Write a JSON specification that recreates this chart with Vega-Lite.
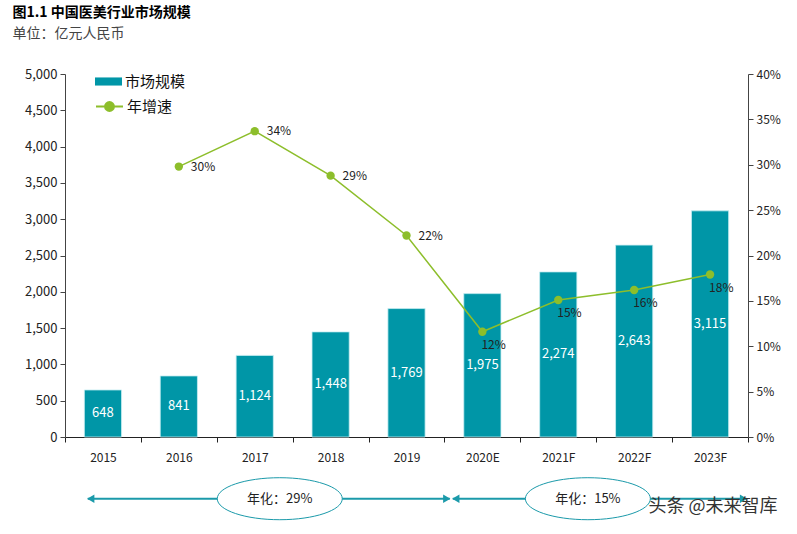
{
  "$schema": "https://vega.github.io/schema/vega-lite/v6.json",
  "background": "white",
  "padding": {"left": 12, "top": 6, "right": 5, "bottom": 5},
  "config": {
    "font": "Noto Sans CJK SC",
    "view": {"stroke": null},
    "axis": {"grid": false, "labelFont": "Noto Sans CJK SC", "labelColor": "#222", "domainColor": "#444", "tickColor": "#444", "title": null}
  },
  "title": {
    "text": "图1.1 中国医美行业市场规模",
    "subtitle": "单位：亿元人民币",
    "anchor": "start",
    "frame": "bounds",
    "fontSize": 14,
    "fontWeight": "bold",
    "color": "#000",
    "subtitleFontSize": 14,
    "subtitleColor": "#444",
    "subtitlePadding": 7,
    "offset": 27,
    "dx": -12
  },
  "width": 683,
  "height": 363,
  "datasets": {
    "main": [
      {"year": "2015", "size": 648, "growth": null},
      {"year": "2016", "size": 841, "growth": 0.298},
      {"year": "2017", "size": 1124, "growth": 0.337},
      {"year": "2018", "size": 1448, "growth": 0.288},
      {"year": "2019", "size": 1769, "growth": 0.222},
      {"year": "2020E", "size": 1975, "growth": 0.116},
      {"year": "2021F", "size": 2274, "growth": 0.151},
      {"year": "2022F", "size": 2643, "growth": 0.162},
      {"year": "2023F", "size": 3115, "growth": 0.179}
    ],
    "cagr": [
      {"label": "年化：29%", "start": 2014.8, "end": 2019.57, "mid": 2017.33},
      {"label": "年化：15%", "start": 2019.61, "end": 2023.48, "mid": 2021.39}
    ],
    "mark": [
      {"text": "头条 @未来智库", "pos": 2023.04}
    ]
  },
  "layer": [
    {
      "data": {"name": "main"},
      "resolve": {"scale": {"y": "independent"}},
      "encoding": {
        "x": {
          "field": "year", "type": "nominal", "sort": null,
          "scale": {"type": "band", "paddingInner": 0, "paddingOuter": 0}
        }
      },
      "layer": [
        {
          "mark": {"type": "bar", "width": {"band": 0.49}, "stroke": "#c8eef2", "strokeWidth": 0.8},
          "encoding": {
            "x": {
              "field": "year", "type": "nominal", "sort": null,
              "axis": {"tickBand": "extent", "tickSize": 5, "labelPadding": 10, "labelFontSize": 12, "labelAngle": 0, "domainColor": "#222", "tickColor": "#222"}
            },
            "y": {
              "field": "size", "type": "quantitative",
              "scale": {"domain": [0, 5000]},
              "axis": {"values": [0, 500, 1000, 1500, 2000, 2500, 3000, 3500, 4000, 4500, 5000], "format": ",d", "labelFontSize": 13, "tickSize": 5, "labelPadding": 3}
            },
            "fill": {
              "datum": "市场规模",
              "scale": {"range": ["#0096A7"]},
              "legend": {
                "orient": "none", "legendX": 30, "legendY": -6, "title": null, "padding": 0,
                "symbolType": "M-1,-0.3H1V0.3H-1Z", "symbolSize": 729, "symbolStrokeWidth": 0,
                "labelFontSize": 15, "labelColor": "#111", "labelOffset": 3
              }
            }
          }
        },
        {
          "mark": {"type": "text", "color": "white", "fontSize": 13, "baseline": "middle"},
          "encoding": {
            "y": {"field": "size", "type": "quantitative", "scale": {"domain": [0, 10000]}, "axis": null},
            "text": {"field": "size", "type": "quantitative", "format": ","}
          }
        },
        {
          "mark": {"type": "line", "strokeWidth": 1.5},
          "encoding": {
            "y": {
              "field": "growth", "type": "quantitative",
              "scale": {"domain": [0, 0.4]},
              "axis": {"orient": "right", "values": [0, 0.05, 0.1, 0.15, 0.2, 0.25, 0.3, 0.35, 0.4], "format": ".0%", "labelFontSize": 12, "tickSize": 5, "labelPadding": 3}
            },
            "stroke": {
              "datum": "年增速",
              "scale": {"range": ["#8DBE2B"]},
              "legend": {
                "orient": "none", "legendX": 30, "legendY": 18, "title": null, "padding": 0,
                "symbolType": "M-1,0H1M0.33,0A0.33,0.33 0 1,1 -0.33,0A0.33,0.33 0 1,1 0.33,0Z",
                "symbolSize": 729, "symbolStrokeWidth": 2, "symbolFillColor": "#8DBE2B",
                "labelFontSize": 15, "labelColor": "#111", "labelOffset": 3
              }
            }
          }
        },
        {
          "mark": {"type": "point", "filled": true, "size": 70, "color": "#8DBE2B", "opacity": 1},
          "encoding": {
            "y": {"field": "growth", "type": "quantitative", "scale": {"domain": [0, 0.4]}, "axis": null}
          }
        },
        {
          "transform": [{"filter": {"field": "year", "oneOf": ["2016", "2017", "2018", "2019"]}}],
          "mark": {"type": "text", "align": "left", "baseline": "middle", "dx": 12, "fontSize": 12, "color": "#222"},
          "encoding": {
            "y": {"field": "growth", "type": "quantitative", "scale": {"domain": [0, 0.4]}, "axis": null},
            "text": {"field": "growth", "type": "quantitative", "format": ".0%"}
          }
        },
        {
          "transform": [{"filter": {"field": "year", "oneOf": ["2020E", "2021F", "2022F", "2023F"]}}],
          "mark": {"type": "text", "align": "left", "baseline": "middle", "dx": -1, "dy": 13, "fontSize": 12, "color": "#222"},
          "encoding": {
            "y": {"field": "growth", "type": "quantitative", "scale": {"domain": [0, 0.4]}, "axis": null},
            "text": {"field": "growth", "type": "quantitative", "format": ".0%"}
          }
        }
      ]
    },
    {
      "resolve": {"scale": {"y": "shared"}},
      "layer": [
        {
          "data": {"name": "cagr"},
          "mark": {"type": "rule", "color": "#1B9AAA", "strokeWidth": 2},
          "encoding": {
            "x": {"field": "start", "type": "quantitative", "scale": {"domain": [2014.5, 2023.5], "nice": false, "zero": false}, "axis": null},
            "x2": {"field": "end"},
            "y": {"datum": -0.17, "type": "quantitative", "scale": {"domain": [0, 1], "nice": false}, "axis": null}
          }
        },
        {
          "data": {"name": "cagr"},
          "mark": {"type": "point", "shape": "triangle-left", "filled": true, "size": 70, "color": "#1B9AAA", "opacity": 1, "xOffset": 3},
          "encoding": {
            "x": {"field": "start", "type": "quantitative", "axis": null},
            "y": {"datum": -0.17, "type": "quantitative", "axis": null}
          }
        },
        {
          "data": {"name": "cagr"},
          "mark": {"type": "point", "shape": "triangle-right", "filled": true, "size": 70, "color": "#1B9AAA", "opacity": 1, "xOffset": -3},
          "encoding": {
            "x": {"field": "end", "type": "quantitative", "axis": null},
            "y": {"datum": -0.17, "type": "quantitative", "axis": null}
          }
        },
        {
          "data": {"name": "cagr"},
          "mark": {"type": "point", "shape": "M-1,0A1,0.336 0 1,1 1,0A1,0.336 0 1,1 -1,0Z", "size": 15625, "filled": true, "fill": "white", "stroke": "#1B9AAA", "strokeWidth": 1, "opacity": 1, "fillOpacity": 1},
          "encoding": {
            "x": {"field": "mid", "type": "quantitative", "axis": null},
            "y": {"datum": -0.17, "type": "quantitative", "axis": null}
          }
        },
        {
          "data": {"name": "cagr"},
          "mark": {"type": "text", "fontSize": 13, "color": "#222", "baseline": "middle"},
          "encoding": {
            "x": {"field": "mid", "type": "quantitative", "axis": null},
            "y": {"datum": -0.17, "type": "quantitative", "axis": null},
            "text": {"field": "label"}
          }
        },
        {
          "data": {"name": "mark"},
          "mark": {"type": "text", "fontSize": 18, "color": "#333", "baseline": "middle"},
          "encoding": {
            "x": {"field": "pos", "type": "quantitative", "axis": null},
            "y": {"datum": -0.193, "type": "quantitative", "axis": null},
            "text": {"field": "text"}
          }
        }
      ]
    }
  ],
  "resolve": {"scale": {"x": "independent", "y": "independent"}}
}
